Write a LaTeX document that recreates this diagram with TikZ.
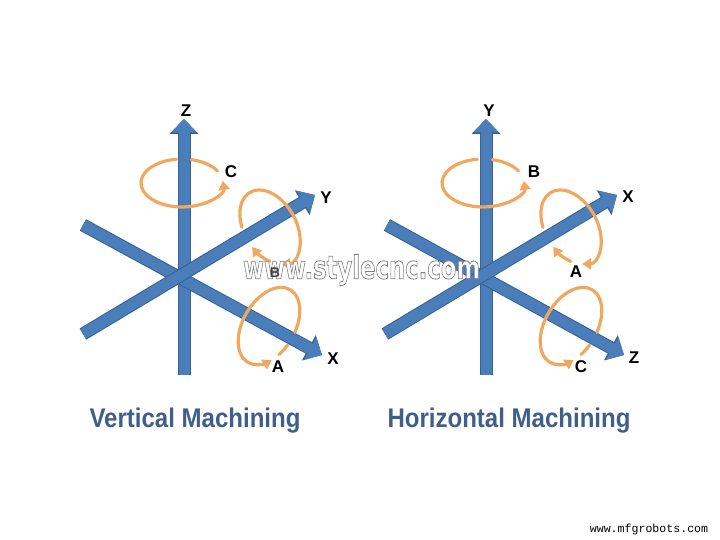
\documentclass[tikz,border=0pt]{standalone}
\usepackage{fontspec}
\setmainfont{Liberation Sans}
\newfontfamily\markfont{Liberation Mono}
\newfontfamily\stampfont{DejaVu Sans}
\usetikzlibrary{arrows.meta}
\definecolor{axisblue}{HTML}{4A7EBB}
\definecolor{axisedge}{HTML}{38618F}
\definecolor{ringorange}{HTML}{F0A860}
\definecolor{titleblue}{HTML}{3F5F8A}
\tikzset{
  axisunder/.style={line width=13pt, draw=axisedge, -{Triangle[length=15pt,width=28pt,color=axisedge]}},
  axisline/.style={line width=11pt, draw=axisblue, -{Triangle[length=13.5pt,width=25pt,color=axisblue]}},
  ring/.style={line width=3.2pt, draw=ringorange, line cap=round},
  ringtip/.style={ring, -{Triangle[length=9pt,width=11pt,color=ringorange]}},
  axislabel/.style={font=\fontsize{17}{19}\selectfont\bfseries, text=black, inner sep=0pt},
  titletext/.style={font=\fontsize{27}{30}\selectfont\bfseries, text=titleblue, xscale=0.89, inner sep=0pt}
}
\begin{document}
\begin{tikzpicture}[x=1pt,y=1pt]
  \useasboundingbox (0,0) rectangle (720,540);
  % left figure
  \coordinate (lzbase) at (184,165);
  \coordinate (lztip) at (184,421);
  \coordinate (lxbase) at (83,315);
  \coordinate (lxtip) at (322,185);
  \coordinate (lybase) at (83,206);
  \coordinate (lytip) at (315,345);
  \draw[axisunder] (lzbase) -- (lztip);
  \draw[axisline] (lzbase) -- (lztip);
  \draw[axisunder] (lxbase) -- (lxtip);
  \draw[axisline] (lxbase) -- (lxtip);
  \draw[axisunder] (lybase) -- (lytip);
  \draw[axisline] (lybase) -- (lytip);
  \draw[ring,shift={(182,357)}] (30:41 and 24) arc[start angle=30,end angle=77,x radius=41,y radius=24];
  \draw[ringtip,shift={(182,357)}] (98:41 and 24) arc[start angle=98,end angle=365,x radius=41,y radius=24];
  \draw[ringtip,shift={(270,313)},rotate=-60] (250:40 and 26) arc[start angle=250,end angle=-20,x radius=40,y radius=26];
  \draw[ringtip,shift={(270,313)},rotate=-60] (-42:40 and 26) arc[start angle=-42,end angle=-78,x radius=40,y radius=26];
  \draw[ringtip,shift={(269,214)},rotate=60] (-80:42 and 26) arc[start angle=-80,end angle=228,x radius=42,y radius=26];
  \draw[ring,shift={(269,214)},rotate=60] (-100:42 and 26) arc[start angle=-100,end angle=-118,x radius=42,y radius=26];
  \node[axislabel] (lzlabel) at (186,429) {Z};
  \node[axislabel] (lclabel) at (231,368) {C};
  \node[axislabel] (lylabel) at (326,342) {Y};
  \node[axislabel] (lxlabel) at (333,181) {X};
  \node[axislabel] (lalabel) at (278,173) {A};
  % right figure
  \coordinate (rybase) at (486,165);
  \coordinate (rytip) at (486,421);
  \coordinate (rzbase) at (387,315);
  \coordinate (rztip) at (624,185);
  \coordinate (rxbase) at (385,206);
  \coordinate (rxtip) at (617,345);
  \draw[axisunder] (rybase) -- (rytip);
  \draw[axisline] (rybase) -- (rytip);
  \draw[axisunder] (rzbase) -- (rztip);
  \draw[axisline] (rzbase) -- (rztip);
  \draw[axisunder] (rxbase) -- (rxtip);
  \draw[axisline] (rxbase) -- (rxtip);
  \draw[ring,shift={(483,357)}] (30:41 and 24) arc[start angle=30,end angle=77,x radius=41,y radius=24];
  \draw[ringtip,shift={(483,357)}] (98:41 and 24) arc[start angle=98,end angle=365,x radius=41,y radius=24];
  \draw[ringtip,shift={(571,313)},rotate=-60] (250:40 and 26) arc[start angle=250,end angle=-20,x radius=40,y radius=26];
  \draw[ringtip,shift={(571,313)},rotate=-60] (-42:40 and 26) arc[start angle=-42,end angle=-78,x radius=40,y radius=26];
  \draw[ringtip,shift={(571,214)},rotate=60] (-80:42 and 26) arc[start angle=-80,end angle=228,x radius=42,y radius=26];
  \draw[ring,shift={(571,214)},rotate=60] (-100:42 and 26) arc[start angle=-100,end angle=-118,x radius=42,y radius=26];
  \node[axislabel] (rylabel) at (489,429) {Y};
  \node[axislabel] (rblabel) at (534,368) {B};
  \node[axislabel] (rxlabel) at (628,343) {X};
  \node[axislabel] (ralabel) at (576,268) {A};
  \node[axislabel] (rzlabel) at (634,182) {Z};
  \node[axislabel] (rclabel) at (581,173) {C};
  % titles and web addresses
  \node[titletext] (ltitle) at (195,119) {Vertical Machining};
  \node[titletext] (rtitle) at (509,119) {Horizontal Machining};
  \node[inner sep=0pt, font=\stampfont\fontsize{32}{34}\selectfont\bfseries, text=white, xscale=0.71] (stamp) at (361.5,270)
    {\special{pdf:code 2 Tr 0.8 w 0.5 G}www.stylecnc.com\special{pdf:code 0 Tr 0 w}};
  \node[axislabel, font=\fontsize{14}{16}\selectfont\bfseries, text=black!75] (lblabel) at (275,267) {B};
  \node[inner sep=0pt, font=\markfont\fontsize{11.6}{13}\selectfont, text=black] (site) at (649,10) {www.mfgrobots.com};
\end{tikzpicture}
\end{document}
